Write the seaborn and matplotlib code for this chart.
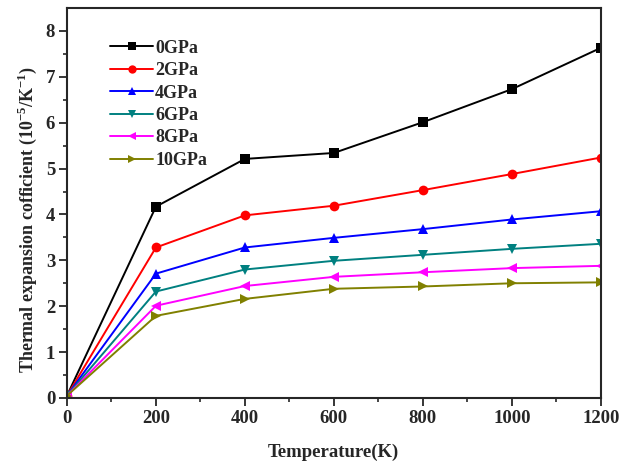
import matplotlib
matplotlib.use("Agg")
import matplotlib.pyplot as plt
import seaborn as sns
import pandas as pd

temperature = [0, 200, 400, 600, 800, 1000, 1200]
pressures = ["0GPa", "2GPa", "4GPa", "6GPa", "8GPa", "10GPa"]
alpha_0 = [0.05, 4.17, 5.21, 5.34, 6.01, 6.73, 7.63]
alpha_2 = [0.05, 3.28, 3.98, 4.19, 4.53, 4.88, 5.24]
alpha_4 = [0.05, 2.71, 3.28, 3.49, 3.68, 3.89, 4.07]
alpha_6 = [0.05, 2.32, 2.80, 2.99, 3.12, 3.25, 3.36]
alpha_8 = [0.05, 2.01, 2.44, 2.64, 2.74, 2.83, 2.88]
alpha_10 = [0.05, 1.79, 2.16, 2.38, 2.43, 2.50, 2.52]
series = [alpha_0, alpha_2, alpha_4, alpha_6, alpha_8, alpha_10]

colors = ["#000000", "#ff0000", "#0000ff", "#008080", "#ff00ff", "#808000"]
markers = ["s", "o", "^", "v", "<", ">"]

rows = []
for p, vals in zip(pressures, series):
    for t, v in zip(temperature, vals):
        rows.append({"T": t, "alpha": v, "P": p})
df = pd.DataFrame(rows)

sns.set_theme(style="ticks")
plt.rcParams["font.family"] = ["Liberation Serif", "DejaVu Serif"]
plt.rcParams["font.weight"] = "bold"
plt.rcParams["mathtext.fontset"] = "custom"
plt.rcParams["mathtext.rm"] = "Liberation Serif:bold"
plt.rcParams["mathtext.bf"] = "Liberation Serif:bold"

fig = plt.figure(figsize=(6.2, 4.68), dpi=100)
ax = fig.add_axes([0.108, 0.1496, 0.861, 0.8334])

sns.lineplot(data=df, x="T", y="alpha", hue="P", style="P",
             hue_order=pressures, style_order=pressures,
             palette=dict(zip(pressures, colors)),
             markers=dict(zip(pressures, markers)), dashes=False,
             markersize=7, markeredgewidth=0, linewidth=1.4, ax=ax)

ax.set_xlim(0, 1200)
ax.set_ylim(0, 8.5)
ax.set_xticks([0, 200, 400, 600, 800, 1000, 1200])
ax.set_xticks([100, 300, 500, 700, 900, 1100], minor=True)
ax.set_yticks(range(0, 9))
ax.set_yticks([0.5, 1.5, 2.5, 3.5, 4.5, 5.5, 6.5, 7.5], minor=True)
ax.tick_params(axis="both", which="major", labelsize=13.5, length=5.5, width=1.3,
               direction="out", pad=3)
ax.tick_params(axis="both", which="minor", length=3, width=1.2, direction="out")
for lab in ax.get_xticklabels() + ax.get_yticklabels():
    lab.set_fontweight("bold")
for s in ax.spines.values():
    s.set_linewidth(1.5)
    s.set_visible(True)

ax.set_xlabel("Temperature(K)", fontsize=13.5, fontweight="bold", labelpad=12)
ax.set_ylabel(r"Thermal expansion cofficient (10$^{-5}$/K$^{-1}$)", fontsize=13,
              fontweight="bold")
ax.yaxis.set_label_coords(-0.052, 0.458)

leg = ax.legend(loc="upper left", frameon=False, handlelength=2.4,
                handletextpad=0.1, labelspacing=0.3, bbox_to_anchor=(0.05, 0.96),
                prop={"weight": "bold", "size": 13})
for h in leg.legend_handles:
    h.set_markersize(6)

fig.savefig("out.png", dpi=100)
